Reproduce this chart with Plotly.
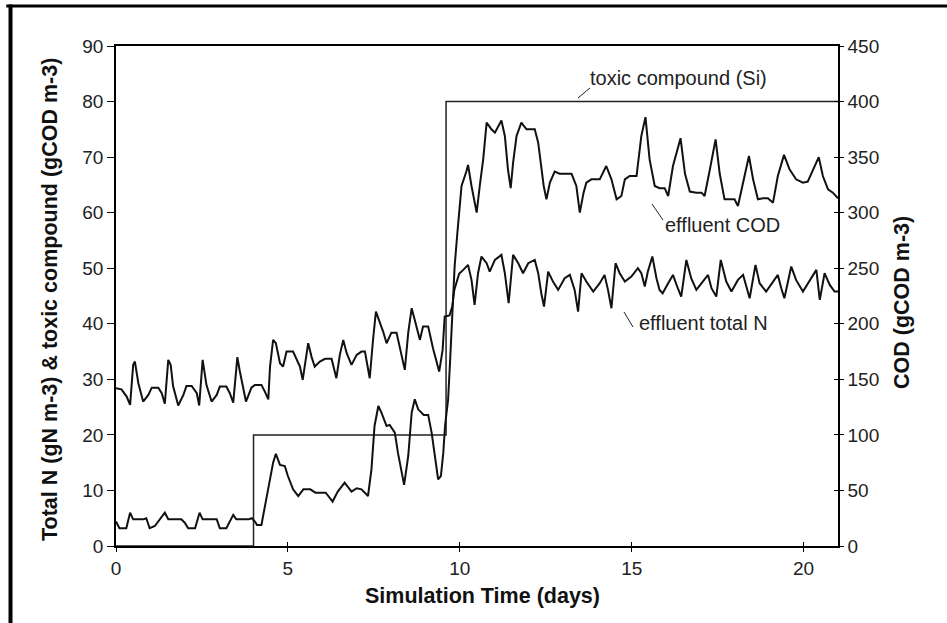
import plotly.graph_objects as go

# ---------------- data ----------------
x_tick_vals = [0, 5, 10, 15, 20]
y_left_ticks = [0, 10, 20, 30, 40, 50, 60, 70, 80, 90]
y_right_ticks = [0, 50, 100, 150, 200, 250, 300, 350, 400, 450]

# toxic compound (Si), gCOD m-3, left axis (step input)
toxic_time = [0, 4.0, 9.6, 21]
toxic_values = [0, 20, 80, 80]

# effluent total N, gN m-3, left axis
tn_time = [0.0, 0.16, 0.31, 0.41, 0.5, 0.55, 0.65, 0.79, 0.94, 1.04, 1.23, 1.33, 1.42, 1.52, 1.59,
           1.66, 1.81, 1.96, 2.05, 2.2, 2.35, 2.42, 2.52, 2.63, 2.78, 2.93, 3.02, 3.21, 3.31, 3.41,
           3.53, 3.6, 3.78, 3.94, 4.04, 4.23, 4.33, 4.43, 4.48, 4.57, 4.65, 4.77, 4.86, 4.96, 5.15,
           5.25, 5.35, 5.43, 5.52, 5.59, 5.69, 5.78, 5.93, 6.08, 6.27, 6.41, 6.51, 6.61, 6.71, 6.85,
           7.0, 7.14, 7.24, 7.38, 7.48, 7.56, 7.67, 7.77, 7.87, 8.01, 8.16, 8.26, 8.4, 8.5, 8.6,
           8.69, 8.84, 8.93, 9.08, 9.22, 9.4, 9.5, 9.56, 9.7, 9.78, 9.84, 9.98, 10.1, 10.24, 10.34,
           10.43, 10.53, 10.63, 10.78, 10.87, 11.02, 11.21, 11.31, 11.42, 11.55, 11.7, 11.84, 11.99,
           12.18, 12.28, 12.37, 12.45, 12.57, 12.71, 12.86, 13.05, 13.2, 13.34, 13.44, 13.54, 13.68,
           13.88, 14.07, 14.21, 14.31, 14.41, 14.53, 14.65, 14.8, 14.99, 15.18, 15.28, 15.38, 15.47,
           15.6, 15.72, 15.81, 15.9, 16.06, 16.2, 16.34, 16.44, 16.59, 16.73, 16.88, 17.03, 17.22,
           17.32, 17.46, 17.59, 17.75, 17.9, 18.09, 18.24, 18.34, 18.43, 18.6, 18.72, 18.91, 19.11,
           19.25, 19.35, 19.44, 19.64, 19.78, 19.98, 20.17, 20.37, 20.47, 20.61, 20.76, 20.9, 21.0]
tn_values = [28.4, 28.2, 26.9, 25.4, 32.6, 33.2, 29.3, 26.0, 27.2, 28.5, 28.5, 27.5, 25.6, 33.5, 32.6,
             28.8, 25.3, 27.2, 28.8, 28.8, 27.5, 25.3, 33.5, 29.0, 26.0, 27.2, 28.7, 28.7, 27.5, 25.8,
             34.0, 31.5, 26.0, 28.5, 29.0, 29.0, 27.8, 26.4, 32.3, 37.1, 36.5, 32.9, 32.3, 35.0, 35.0,
             33.7, 32.3, 29.9, 34.0, 36.5, 34.0, 32.3, 33.2, 33.7, 33.7, 30.2, 34.4, 37.1, 34.7, 32.6,
             34.4, 35.0, 35.0, 30.2, 37.4, 42.2, 40.3, 38.6, 36.5, 38.4, 38.4, 35.6, 31.7, 38.4, 42.8,
             40.7, 37.1, 39.5, 39.5, 35.6, 31.4, 35.3, 41.3, 41.5, 43.1, 46.1, 49.0, 49.7, 50.6, 47.9,
             43.4, 49.1, 52.1, 50.9, 49.4, 51.5, 52.4, 49.1, 43.7, 52.4, 50.9, 49.1, 50.9,
             51.5, 49.1, 45.5, 43.1, 49.4, 47.6, 46.1, 48.2, 48.8, 46.1, 42.2, 49.1, 47.6,
             45.8, 47.3, 48.8, 46.1, 42.8, 50.9, 49.1, 47.6, 48.5, 50.0, 49.1, 46.7, 49.4,
             52.1, 48.2, 46.1, 45.5, 47.3, 48.8, 46.4, 44.9, 51.5, 48.2, 46.1, 47.3, 48.8,
             46.4, 44.9, 51.5, 47.6, 45.8, 47.9, 48.8, 46.4, 44.6, 50.6, 47.3, 45.8, 47.6,
             48.8, 46.4, 44.6, 50.3, 47.9, 45.8, 47.6, 49.7, 44.3, 49.1, 47.0, 45.8, 45.8]

# effluent COD, gCOD m-3, right axis
cod_time = [0.0, 0.1, 0.3, 0.41, 0.5, 0.79, 0.88, 0.98, 1.13, 1.42, 1.52, 1.9, 2.0, 2.1, 2.3, 2.43,
            2.52, 2.93, 3.02, 3.21, 3.41, 3.5, 3.85, 3.95, 4.04, 4.1, 4.23, 4.28, 4.38, 4.48, 4.57,
            4.65, 4.77, 4.91, 5.0, 5.15, 5.3, 5.45, 5.65, 5.8, 6.1, 6.3, 6.45, 6.65, 6.85, 7.0, 7.14,
            7.33, 7.43, 7.52, 7.63, 7.72, 7.87, 7.96, 8.11, 8.2, 8.3, 8.38, 8.5, 8.6, 8.69, 8.79,
            8.95, 9.08, 9.18, 9.28, 9.37, 9.45, 9.52, 9.57, 9.66, 9.71, 9.75, 9.8, 9.85, 9.93, 10.0,
            10.05, 10.19, 10.24, 10.34, 10.49, 10.58, 10.68, 10.78, 10.92, 11.02, 11.21, 11.31, 11.4,
            11.48, 11.55, 11.65, 11.79, 11.94, 12.18, 12.28, 12.37, 12.44, 12.52, 12.62, 12.76, 12.9,
            13.25, 13.39, 13.49, 13.6, 13.68, 13.83, 14.07, 14.26, 14.41, 14.56, 14.7, 14.8, 14.94,
            15.14, 15.28, 15.4, 15.52, 15.67, 15.81, 15.96, 16.06, 16.2, 16.42, 16.55, 16.69, 16.88,
            17.03, 17.12, 17.28, 17.44, 17.56, 17.7, 17.85, 17.99, 18.09, 18.24, 18.41, 18.53, 18.67,
            18.82, 18.96, 19.11, 19.25, 19.43, 19.59, 19.78, 19.98, 20.12, 20.27, 20.44, 20.56, 20.71,
            20.85, 21.0]
cod_values = [22, 16, 16, 30, 24, 24, 25, 16, 18, 30, 24, 24, 21, 16, 16, 30,
              24, 24, 16, 16, 28, 24, 24, 25, 22, 19, 19, 27, 42, 60, 75,
              83, 73, 72, 63, 51, 45, 51, 51, 48, 48, 40, 49, 57, 49, 52, 51,
              45, 69, 108, 126, 120, 108, 109, 102, 84, 66, 55, 81, 120, 132, 123,
              118, 118, 102, 78, 60, 63, 84, 108, 132, 162, 192, 222, 252, 282, 306,
              324, 337, 343, 324, 300, 324, 348, 381, 375, 372, 383, 369, 339,
              322, 345, 369, 381, 375, 375, 363, 342, 324, 312, 327, 337, 335,
              335, 324, 300, 318, 327, 330, 330, 342, 330, 312, 315, 330, 333,
              333, 369, 386, 348, 324, 322, 322, 315, 342, 367, 335, 319, 318,
              318, 315, 340, 366, 335, 312, 312, 312, 306, 327, 351, 330, 312,
              313, 313, 309, 333, 352, 339, 330, 327, 328, 339, 350, 333, 321,
              318, 313]

FONT = "Liberation Sans, Arial, sans-serif"
INK = "#111111"

fig = go.Figure()
fig.add_trace(go.Scatter(x=toxic_time, y=toxic_values, mode="lines", line_shape="hv",
                         line=dict(color="#222222", width=1.5), xaxis="x", yaxis="y"))
fig.add_trace(go.Scatter(x=tn_time, y=tn_values, mode="lines",
                         line=dict(color=INK, width=2), xaxis="x", yaxis="y"))
fig.add_trace(go.Scatter(x=cod_time, y=cod_values, mode="lines",
                         line=dict(color=INK, width=2), xaxis="x", yaxis="y2"))
# helper (empty) traces so the inside-tick companion axes are drawn
fig.add_trace(go.Scatter(x=[], y=[], xaxis="x2", yaxis="y", hoverinfo="skip"))
fig.add_trace(go.Scatter(x=[], y=[], xaxis="x", yaxis="y3", hoverinfo="skip"))

tickfont = dict(family=FONT, size=19, color="#222222")

fig.update_layout(
    template="none",
    width=947, height=623,
    margin=dict(l=116, r=109, t=46, b=77, autoexpand=False),
    paper_bgcolor="white", plot_bgcolor="white",
    showlegend=False,
    xaxis=dict(range=[0, 21], tickvals=x_tick_vals, ticks="outside", ticklen=4, tickwidth=1.3,
               tickcolor="black", showline=True, linecolor="black", linewidth=1.5, mirror=True,
               showgrid=False, zeroline=False, tickfont=tickfont, automargin=False),
    xaxis2=dict(range=[0, 21], tickvals=x_tick_vals, ticks="inside", ticklen=4, tickwidth=1.3,
                tickcolor="black", overlaying="x", side="bottom", anchor="y", showline=False,
                showticklabels=False, showgrid=False, zeroline=False),
    yaxis=dict(range=[0, 90], tickvals=y_left_ticks, ticks="outside", ticklen=7, tickwidth=1.3,
               tickcolor="black", showline=True, linecolor="black", linewidth=1.5, mirror=True,
               showgrid=False, zeroline=False, tickfont=tickfont, automargin=False),
    yaxis2=dict(range=[0, 450], tickvals=y_right_ticks, ticks="outside", ticklen=4, tickwidth=1.3,
                tickcolor="black", overlaying="y", side="right", anchor="x", showline=True,
                linecolor="black", linewidth=1.5, showgrid=False, zeroline=False,
                tickfont=tickfont, automargin=False),
    yaxis3=dict(range=[0, 450], tickvals=y_right_ticks, ticks="inside", ticklen=4, tickwidth=1.3,
                tickcolor="black", overlaying="y", side="right", anchor="x", showline=False,
                showticklabels=False, showgrid=False, zeroline=False),
)

annfont = dict(family=FONT, size=20, color="#222222")
titlefont = dict(family=FONT, size=21.5, color="#111111")
annotations = [
    dict(text="toxic compound (Si)", x=0.654, y=0.936, xanchor="left", yanchor="middle", font=annfont),
    dict(text="effluent COD", x=0.758, y=0.642, xanchor="left", yanchor="middle", font=annfont),
    dict(text="effluent total N", x=0.721, y=0.446, xanchor="left", yanchor="middle", font=annfont),
    dict(text="<b>Simulation Time (days)</b>", x=0.507, y=-0.099, xanchor="center", yanchor="middle",
         font=titlefont),
    dict(text="<b>Total N (gN m-3) & toxic compound (gCOD m-3)</b>", x=-0.0914, y=0.492,
         xanchor="center", yanchor="middle", textangle=-90, font=titlefont),
    dict(text="<b>COD (gCOD m-3)</b>", x=1.0886, y=0.488, xanchor="center", yanchor="middle",
         textangle=-90, font=titlefont),
]
for a in annotations:
    a.update(xref="paper", yref="paper", showarrow=False)
fig.update_layout(annotations=annotations)

leader = dict(color="#222222", width=1)
shapes = [
    # label leader lines
    dict(type="line", xref="paper", yref="paper", x0=0.6399, y0=0.896, x1=0.6565, y1=0.916, line=leader),
    dict(type="line", xref="paper", yref="paper", x0=0.7424, y0=0.684, x1=0.7576, y1=0.652, line=leader),
    dict(type="line", xref="paper", yref="paper", x0=0.7036, y0=0.468, x1=0.7161, y1=0.438, line=leader),
    # outer frame (top and left edges of the picture)
    dict(type="line", xref="paper", yref="paper", x0=-0.152, y0=1.08, x1=1.2, y1=1.08,
         line=dict(color="black", width=3)),
    dict(type="line", xref="paper", yref="paper", x0=-0.1461, y0=1.083, x1=-0.1461, y1=-0.2,
         line=dict(color="black", width=4)),
]
fig.update_layout(shapes=shapes)

fig.write_html("out.html")
